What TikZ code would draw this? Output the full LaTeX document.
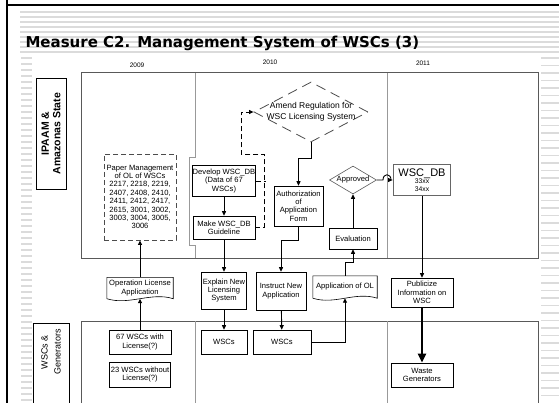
\documentclass[tikz,border=0pt]{standalone}
\usepackage{fontspec}
\setmainfont{Liberation Sans}
\newfontfamily\titlefont{DejaVu Sans}
\usetikzlibrary{shapes.geometric,arrows.meta,calc}
\newcommand\docoutline[1]{\draw[line width=0.6pt] (#1.south west) -- (#1.north west) -- (#1.north east) -- (#1.south east) .. controls ($(#1.south east)+(-22,-7)$) and ($(#1.south west)+(22,7)$) .. (#1.south west);}
\begin{document}
\begin{tikzpicture}[x=1pt,y=-1pt,>={Triangle[length=4.5pt,width=4pt]},
  stripe/.style={gray!28,line width=1.6pt},
  lane/.style={draw=black!65,line width=1pt},
  divider/.style={black!40,line width=0.4pt},
  box/.style={draw,fill=white,line width=0.6pt,align=center,inner sep=0.5pt,font=\fontsize{7.6}{8.4}\selectfont},
  doc/.style={align=center,inner sep=0.5pt,font=\fontsize{7.6}{8.4}\selectfont},
  dashbox/.style={box,draw=black!70,line width=0.9pt,dash pattern=on 5pt off 3pt},
  dline/.style={line width=0.9pt,dash pattern=on 5pt off 3pt},
  arr/.style={->,line width=0.9pt},
  year/.style={font=\fontsize{6.5}{7}\selectfont}]
\useasboundingbox (0,0) rectangle (559,403);
\foreach \y in {12,17,...,52} \draw[stripe] (20,\y) -- (559,\y);
\foreach \y in {58,64,...,400} \draw[stripe] (21,\y) -- (32,\y);
\foreach \y in {58,65.5,...,400} \draw[stripe] (541,\y) -- (559,\y);
\draw[line width=2pt] (7,0) -- (7,403);
\draw[line width=2pt] (6,5) -- (559,5);
\node[anchor=base west,font=\titlefont\bfseries\fontsize{15}{18}\selectfont] (title) at (22,48) {Measure C2. Management System of WSCs (3)};
\node[year] (y2009) at (137,65) {2009};
\node[year] (y2010) at (270,62) {2010};
\node[year] (y2011) at (423,63) {2011};
\draw[lane] (81,73) rectangle (538,258);
\draw[lane] (81,405) |- (538,321) -- (538,405);
\draw[divider] (195,73) -- (195,157) -- (189,157) -- (189,245) -- (195,245) -- (195,258);
\draw[divider] (195,321) -- (195,405);
\draw[divider] (387,73) -- (387,258);
\draw[divider] (387,321) -- (387,405);
\node[draw,line width=0.8pt,rotate=90,minimum width=111pt,minimum height=30pt,align=center,font=\bfseries\fontsize{10.5}{11.5}\selectfont] (ipaam) at (51,133.5) {IPAAM \&\\Amazonas State};
\draw[line width=0.8pt] (33,405) |- (69,323) -- (69,405);
\node[rotate=90,align=center,font=\fontsize{9}{13}\selectfont] (wscgen) at (51,352) {WSCs \&\\Generators};
\node[dashbox,minimum width=72pt,minimum height=86pt] (paper) at (140,197) {Paper Management\\of OL of WSCs\\2217, 2218, 2219,\\2407, 2408, 2410,\\2411, 2412, 2417,\\2615, 3001, 3002,\\3003, 3004, 3005,\\3006};
\node[box,minimum width=61pt,minimum height=31pt] (dev) at (224,181) {Develop WSC\_DB\\(Data of 67\\WSCs)};
\node[box,minimum width=62pt,minimum height=23pt] (make) at (224,227.5) {Make WSC\_DB\\Guideline};
\node[diamond,draw=black!70,line width=0.8pt,dash pattern=on 10pt off 6pt,aspect=1.9,inner xsep=-8pt,inner ysep=0pt,minimum width=114pt,minimum height=60pt,align=center,font=\fontsize{8.5}{11.5}\selectfont] (amend) at (311,112) {Amend Regulation for\\WSC Licensing System};
\node[box,minimum width=49pt,minimum height=40pt] (auth) at (298.5,206) {Authorization\\of\\Application\\Form};
\node[diamond,draw=black!65,line width=0.6pt,fill=white,aspect=1.7,inner sep=0pt,minimum width=47pt,minimum height=28pt,font=\fontsize{7.6}{8.4}\selectfont] (appr) at (353,180) {Approved};
\node[box,draw=black!60,line width=1.8pt,minimum width=57pt,minimum height=31pt,inner sep=0pt,font=\fontsize{6.8}{7.4}\selectfont] (db) at (422,180) {{\fontsize{11}{11.5}\selectfont WSC\_DB}\\33xx\\34xx};
\node[box,minimum width=48pt,minimum height=21pt] (eval) at (353,238.5) {Evaluation};
\node[box,minimum width=45pt,minimum height=37pt] (expl) at (224,290.5) {Explain New\\Licensing\\System};
\node[box,minimum width=50pt,minimum height=38pt] (instr) at (281,291) {Instruct New\\Application};
\node[doc,minimum width=66pt,minimum height=21pt] (opl) at (140,288) {Operation License\\Application};
\docoutline{opl}
\node[doc,minimum width=64pt,minimum height=22pt] (aol) at (345,287) {Application of OL};
\docoutline{aol}
\node[box,minimum width=62pt,minimum height=29pt] (pub) at (422,292.5) {Publicize\\Information on\\WSC};
\node[box,minimum width=62pt,minimum height=24pt] (w67) at (140,342) {67 WSCs with\\License(?)};
\node[box,minimum width=61pt,minimum height=25pt] (w23) at (140,374.5) {23 WSCs without\\License(?)};
\node[box,minimum width=46pt,minimum height=24pt] (wscs1) at (224,342) {WSCs};
\node[box,minimum width=58pt,minimum height=24pt] (wscs2) at (282,342) {WSCs};
\node[box,minimum width=62pt,minimum height=24pt] (waste) at (422,375) {Waste\\Generators};
\draw[arr] (dev) -- (make);
\draw[arr] (make) -- (expl);
\draw[arr] (expl) -- (wscs1);
\draw[arr] (instr) -- (wscs2);
\draw[arr] (w67) -- (opl);
\draw[arr] (opl) -- (paper);
\draw[arr] (amend.south) -- ++(0,16) -| (auth.north);
\draw[arr] (auth.south) -- ++(0,14) -| (instr.north);
\draw[arr] (eval) -- (appr);
\draw[arr] (aol.north) -- ++(0,-13) -| (eval.south);
\draw[arr] (wscs2.east) -| (aol.south);
\draw[arr] (appr.east) -- (383,180) .. controls (383,173) and (391,173) .. (391,180) -- (db.west);
\draw[arr] (db) -- (pub);
\draw[line width=2.5pt,-{Triangle[length=9pt,width=8pt]}] (pub) -- (waste);
\draw[dline] (dev.east) -- ++(10,0);
\draw[dline,->] (make.east) -- ++(9,0) -- ++(0,-73) -- ++(-23,0) |- (amend.west);
\end{tikzpicture}
\end{document}
